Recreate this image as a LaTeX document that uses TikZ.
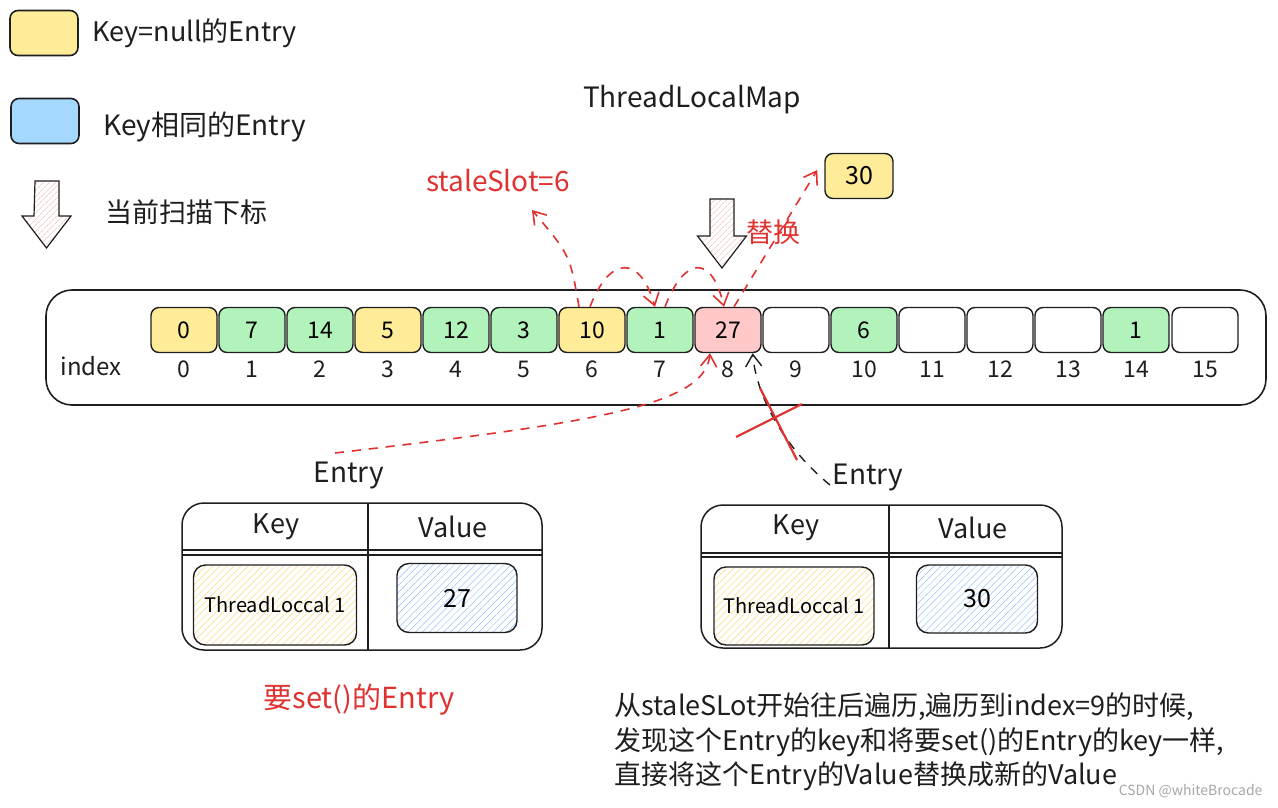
\documentclass[tikz,border=0pt]{standalone}
\usepackage{fontspec}
\setmainfont{Noto Sans CJK SC}
\usetikzlibrary{arrows.meta,patterns.meta}

\definecolor{nullyellow}{HTML}{FFEC99}
\definecolor{samegreen}{HTML}{B2F2BB}
\definecolor{keyblue}{HTML}{A5D8FF}
\definecolor{hitpink}{HTML}{FFC9C9}
\definecolor{markred}{HTML}{E03131}
\definecolor{ink}{HTML}{1E1E1E}

\tikzset{
  slot/.style={draw=ink, line width=1.4pt, rounded corners=8pt, minimum width=66pt, minimum height=45pt, inner sep=0pt, font=\fontsize{23}{24}\selectfont},
  idx/.style={font=\fontsize{23}{24}\selectfont, text=ink},
  legendbox/.style={draw=ink, line width=1.6pt, rounded corners=8pt, minimum width=68pt, minimum height=45pt, inner sep=0pt},
  label/.style={font=\fontsize{27}{30}\selectfont, text=ink, inner sep=0pt},
  redlabel/.style={font=\fontsize{28}{30}\selectfont, text=markred, inner sep=0pt},
  hachbox/.style={draw=ink, line width=1.4pt, rounded corners=12pt, inner sep=0pt},
  redarrow/.style={draw=markred, line width=1.6pt, dash pattern=on 9pt off 8pt, -{Straight Barb[length=12pt,width=16pt]}},
  blackarrow/.style={draw=ink, line width=1.4pt, dash pattern=on 9pt off 8pt, -{Straight Barb[length=12pt,width=16pt]}},
  scanfill/.style={draw=ink, line width=1.2pt, pattern={Lines[angle=45,distance=4pt,line width=0.5pt]}, pattern color=markred!40}
}

\begin{document}
\begin{tikzpicture}[x=1pt, y=-1pt]
\useasboundingbox (0,0) rectangle (1278,807);

% Legend
\node[legendbox, fill=nullyellow] (legNull) at (44,33) {};
\node[label, anchor=west] (legNullText) at (92,33) {Key=null的Entry};
\node[legendbox, fill=keyblue] (legSame) at (45,121) {};
\node[label, anchor=west, font=\fontsize{28}{30}\selectfont] (legSameText) at (103,127) {Key相同的Entry};
\draw[scanfill] (47,181) ++(-12,0) -- ++(24,0) -- ++(0,35) -- ++(12,0) -- ++(-24.5,32) -- ++(-24.5,-32) -- ++(12,0) -- cycle;
\node[label, anchor=west, font=\fontsize{27}{30}\selectfont] (legScanText) at (105,212) {当前扫描下标};

% Titles
\node[label, font=\fontsize{28}{30}\selectfont] (mapTitle) at (692,100) {ThreadLocalMap};
\node[redlabel] (stale) at (498,181) {staleSlot=6};
\node[redlabel, font=\fontsize{27}{30}\selectfont, anchor=west] (replace) at (746,232) {替换};
\node[slot, fill=nullyellow, minimum width=68pt, font=\fontsize{25}{26}\selectfont] (box30) at (859,176) {30};
\coordinate (staleTip) at (532,210);

% Scan arrow
\draw[scanfill] (722,199) ++(-12,0) -- ++(24,0) -- ++(0,37) -- ++(12.5,0) -- ++(-24.5,32) -- ++(-24.5,-32) -- ++(12.5,0) -- cycle;

% The table
\draw[ink, line width=1.6pt, rounded corners=26pt] (46,290) rectangle (1266,405);
\node[label, font=\fontsize{24}{26}\selectfont] (indexText) at (91,366) {index};

\node[slot, fill=nullyellow] (c0) at (184,330) {0};
\node[slot, fill=samegreen] (c1) at (252,330) {7};
\node[slot, fill=samegreen] (c2) at (320,330) {14};
\node[slot, fill=nullyellow] (c3) at (388,330) {5};
\node[slot, fill=samegreen] (c4) at (456,330) {12};
\node[slot, fill=samegreen] (c5) at (524,330) {3};
\node[slot, fill=nullyellow] (c6) at (592,330) {10};
\node[slot, fill=samegreen] (c7) at (660,330) {1};
\node[slot, fill=hitpink] (c8) at (728,330) {27};
\node[slot, fill=white] (c9) at (796,330) {};
\node[slot, fill=samegreen] (c10) at (864,330) {6};
\node[slot, fill=white] (c11) at (932,330) {};
\node[slot, fill=white] (c12) at (1000,330) {};
\node[slot, fill=white] (c13) at (1068,330) {};
\node[slot, fill=samegreen] (c14) at (1136,330) {1};
\node[slot, fill=white] (c15) at (1205,330) {};

\node[idx] (i0) at (184,369) {0};
\node[idx] (i1) at (252,369) {1};
\node[idx] (i2) at (320,369) {2};
\node[idx] (i3) at (388,369) {3};
\node[idx] (i4) at (456,369) {4};
\node[idx] (i5) at (524,369) {5};
\node[idx] (i6) at (592,369) {6};
\node[idx] (i7) at (660,369) {7};
\node[idx] (i8) at (728,369) {8};
\node[idx] (i9) at (796,369) {9};
\node[idx] (i10) at (864,369) {10};
\node[idx] (i11) at (932,369) {11};
\node[idx] (i12) at (1000,369) {12};
\node[idx] (i13) at (1068,369) {13};
\node[idx] (i14) at (1136,369) {14};
\node[idx] (i15) at (1205,369) {15};

% Scan steps
\draw[redarrow] ([xshift=-13pt]c6.north) .. controls (570,255) .. (staleTip);
\draw[redarrow] ([xshift=-2pt]c6.north) .. controls (610,255) and (640,255) .. ([xshift=-5pt]c7.north);
\draw[redarrow] ([xshift=5pt]c7.north) .. controls (685,255) and (712,255) .. ([xshift=-4pt]c8.north);
\draw[redarrow] ([xshift=6pt]c8.north) -- ([xshift=-7pt,yshift=6pt]box30.west);

% Entry to set
\node[label, font=\fontsize{28}{30}\selectfont] (entryA) at (349,476) {Entry};
\coordinate (setFrom) at (335,453);
\draw[redarrow] (setFrom) .. controls (600,422) and (705,405) .. ([xshift=-18pt]c8.south);
\draw[ink, line width=1.5pt, rounded corners=22pt] (182,503) rectangle (542,650);
\draw[ink, line width=1.4pt] (368,503) -- (368,650);
\draw[ink, line width=1.2pt] (182,550) -- (542,550);
\draw[ink, line width=1.2pt] (182,555) -- (542,555);
\node[label] (keyA) at (276,527) {Key};
\node[label] (valueA) at (453,527) {Value};
\node[hachbox, minimum width=163pt, minimum height=80pt, pattern={Lines[angle=45,distance=5pt,line width=0.5pt]}, pattern color=nullyellow!80!orange, font=\fontsize{20}{22}\selectfont] (keyInA) at (275,605) {ThreadLoccal 1};
\node[hachbox, minimum width=120pt, minimum height=69pt, pattern={Lines[angle=45,distance=5pt,line width=0.5pt]}, pattern color=keyblue!90!blue, font=\fontsize{25}{26}\selectfont] (valInA) at (457,598) {27};
\node[redlabel, font=\fontsize{29}{30}\selectfont] (setNote) at (359,700) {要set()的Entry};

% Entry found at index 9
\node[label, font=\fontsize{28}{30}\selectfont] (entryB) at (868,478) {Entry};
\coordinate (foundFrom) at (830,485);
\draw[blackarrow] (foundFrom) .. controls (775,440) and (755,385) .. ([xshift=-9pt]c8.south east);
\draw[markred, line width=2.2pt] (736,437) -- (802,404);
\draw[markred, line width=2.2pt] (760,388) -- (797,460);
\draw[ink, line width=1.5pt, rounded corners=22pt] (701,505) rectangle (1062,648);
\draw[ink, line width=1.4pt] (889,505) -- (889,648);
\draw[ink, line width=1.2pt] (701,553) -- (1062,553);
\draw[ink, line width=1.2pt] (701,557) -- (1062,557);
\node[label] (keyB) at (796,528) {Key};
\node[label] (valueB) at (973,528) {Value};
\node[hachbox, minimum width=160pt, minimum height=78pt, pattern={Lines[angle=45,distance=5pt,line width=0.5pt]}, pattern color=nullyellow!80!orange, font=\fontsize{20}{22}\selectfont] (keyInB) at (794,606) {ThreadLoccal 1};
\node[hachbox, minimum width=121pt, minimum height=68pt, pattern={Lines[angle=45,distance=5pt,line width=0.5pt]}, pattern color=keyblue!90!blue, font=\fontsize{25}{26}\selectfont] (valInB) at (977,599) {30};

% Note
\node[anchor=north west, align=left, inner sep=0pt, text=ink, font=\fontsize{27}{35}\selectfont] (note) at (614,692) {从staleSLot开始往后遍历,遍历到index=9的时候,\\发现这个Entry的key和将要set()的Entry的key一样,\\直接将这个Entry的Value替换成新的Value};
\node[anchor=east, text=gray!70, font=\fontsize{14}{16}\selectfont] (mark) at (1266,791) {CSDN @whiteBrocade};
\end{tikzpicture}
\end{document}
